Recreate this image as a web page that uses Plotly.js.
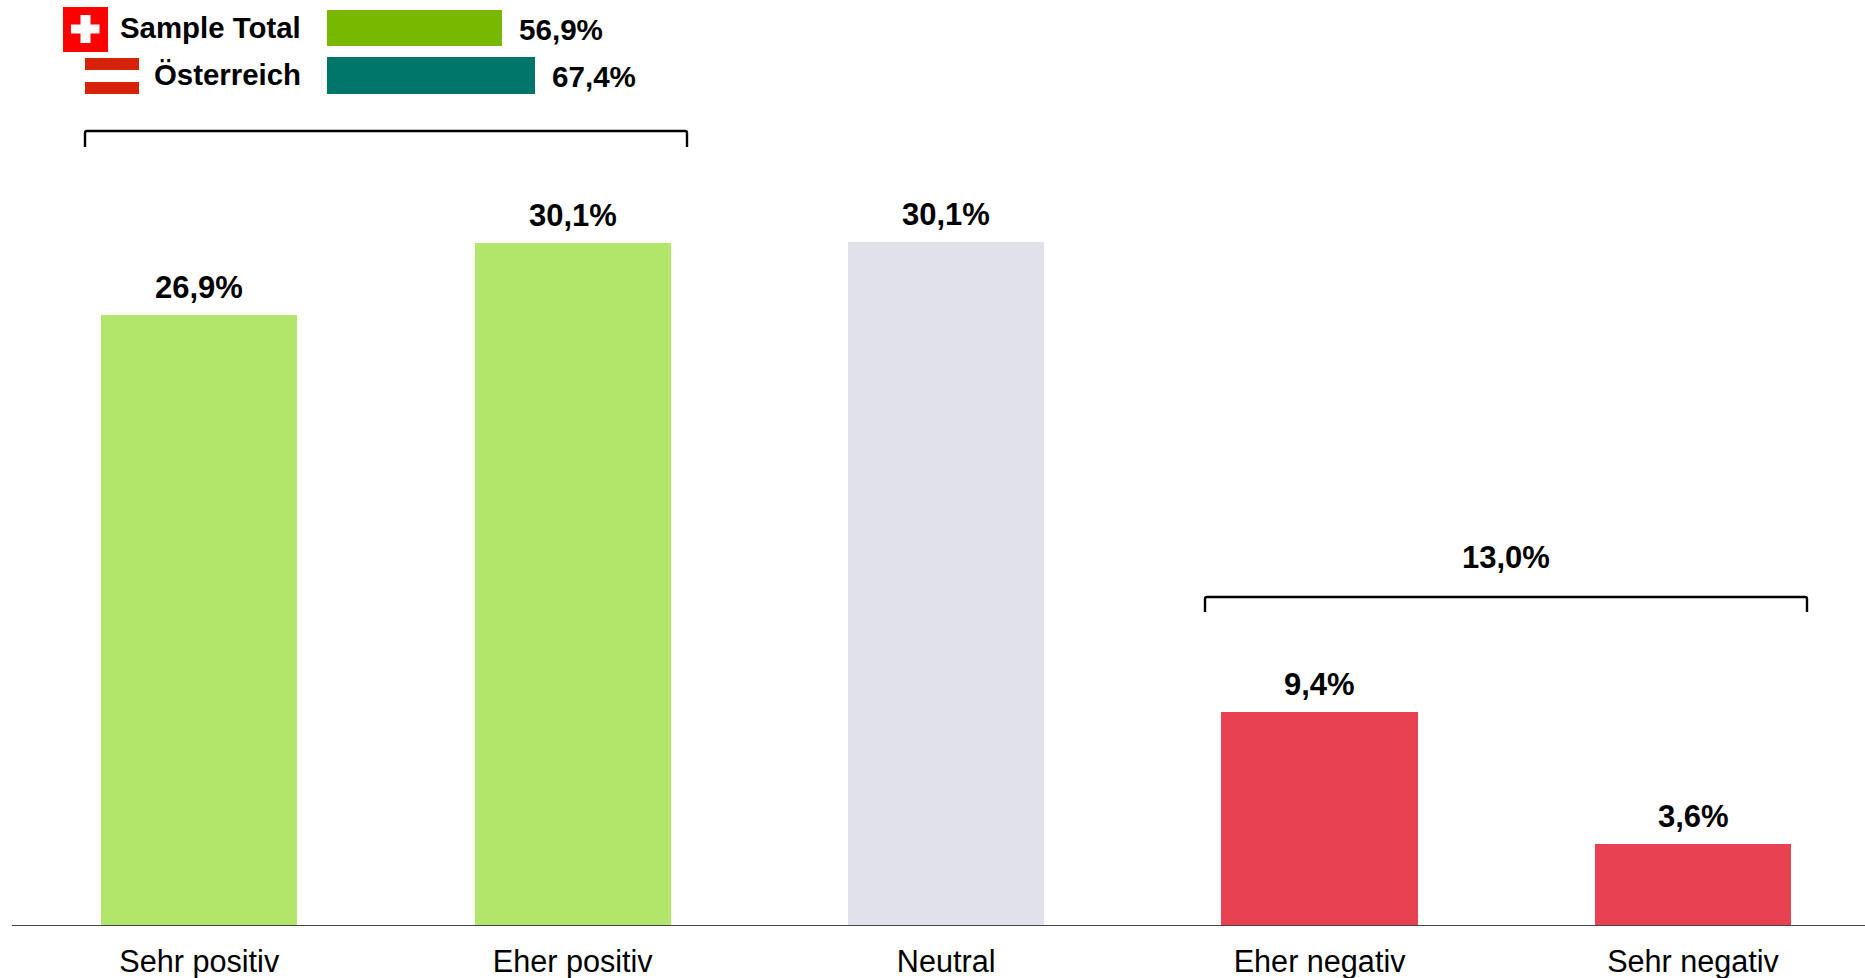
<!DOCTYPE html>
<html><head><meta charset="utf-8">
<script src="https://cdn.plot.ly/plotly-3.0.1.min.js"></script>
<style>html,body{margin:0;padding:0;background:#fff;overflow:hidden}#c{width:1865px;height:978px}</style>
</head><body><div id="c"></div>
<script>
const categories=["Sehr positiv","Eher positiv","Neutral","Eher negativ","Sehr negativ"];
const values=[26.9,30.1,30.15,9.4,3.56];
const valueLabels=["26,9%","30,1%","30,1%","9,4%","3,6%"];
const barColors=["#B2E66B","#B2E66B","#E1E1E9","#E84152","#E84152"];
const summaryNames=["Sample Total","Österreich"];
const summaryValues=[56.9,67.4];
const summaryLabels=["56,9%","67,4%"];
const summaryColors=["#78B800","#00756A"];
const groupLabel="13,0%";

const W=1865,H=978;
const px=x=>x/W, py=y=>1-y/H;
const font={family:"Liberation Sans, Arial, sans-serif",color:"#000"};
const bold=(s)=>"<b>"+s+"</b>";

const traces=[
 {type:"bar",x:categories,y:values,marker:{color:barColors,line:{width:0}},width:0.526,hoverinfo:"skip",xaxis:"x",yaxis:"y"},
 {type:"bar",orientation:"h",x:summaryValues,y:summaryNames,marker:{color:summaryColors,line:{width:0}},width:0.77,hoverinfo:"skip",xaxis:"x2",yaxis:"y2"}
];

const rect=(x0,y0,x1,y1,c)=>({type:"rect",xref:"paper",yref:"paper",x0:px(x0),x1:px(x1),y0:py(y0),y1:py(y1),fillcolor:c,line:{width:0},layer:"above"});
const bracket=(x0,x1,yt,yb)=>({type:"path",xref:"paper",yref:"paper",
  path:`M ${px(x0)} ${py(yb)} L ${px(x0)} ${py(yt+2)} Q ${px(x0)} ${py(yt)} ${px(x0+2)} ${py(yt)} L ${px(x1-2)} ${py(yt)} Q ${px(x1)} ${py(yt)} ${px(x1)} ${py(yt+2)} L ${px(x1)} ${py(yb)}`,
  line:{color:"#000",width:2.4}});

const shapes=[
 rect(63,7,108,52,"#FF0000"),
 rect(80.5,15,90.5,43,"#FFFFFF"),
 rect(71,24.5,99.5,33.5,"#FFFFFF"),
 rect(85,58,139,70,"#D9220A"),
 rect(85,82,139,94,"#D9220A"),
 bracket(85,687,131,147),
 bracket(1205,1807,597,612)
];

const annotations=[];
categories.forEach((c,i)=>annotations.push({x:c,y:values[i],xref:"x",yref:"y",text:bold(valueLabels[i]),showarrow:false,xanchor:"center",yanchor:"bottom",yshift:8,font:{...font,size:31}}));
summaryNames.forEach((n,i)=>{
  annotations.push({x:0,y:n,xref:"x2",yref:"y2",text:bold(n),showarrow:false,xanchor:"right",yanchor:"middle",xshift:-24,yshift:1,font:{...font,size:29.4}});
  annotations.push({x:summaryValues[i],y:n,xref:"x2",yref:"y2",text:bold(summaryLabels[i]),showarrow:false,xanchor:"left",yanchor:"middle",xshift:15,yshift:-1,font:{...font,size:29.6}});
});
annotations.push({x:px(1506),y:py(557),xref:"paper",yref:"paper",text:bold(groupLabel),showarrow:false,xanchor:"center",yanchor:"middle",font:{...font,size:31}});

const layout={
 width:W,height:H,margin:{l:0,r:0,t:0,b:0,pad:0},paper_bgcolor:"#fff",plot_bgcolor:"rgba(0,0,0,0)",showlegend:false,
 font:font,
 xaxis:{domain:[px(12),1],range:[-0.5015,4.4605],type:"category",categoryorder:"array",categoryarray:categories,anchor:"y",
   showgrid:false,zeroline:false,showline:true,linecolor:"#444",linewidth:1,ticks:"",tickfont:{...font,size:30.6},ticklabelstandoff:9,fixedrange:true},
 yaxis:{domain:[py(925),1],range:[0,40.82],showgrid:false,zeroline:false,showline:false,showticklabels:false,ticks:"",anchor:"x",fixedrange:true},
 xaxis2:{domain:[px(327),px(627)],range:[0,97.4],anchor:"y2",visible:false,fixedrange:true},
 yaxis2:{domain:[py(99.5),1],range:[1.5,-0.59],type:"category",categoryorder:"array",categoryarray:summaryNames,anchor:"x2",visible:false,fixedrange:true},
 shapes:shapes,annotations:annotations,bargap:0
};
Plotly.newPlot("c",traces,layout,{displayModeBar:false,staticPlot:true});
</script></body></html>
